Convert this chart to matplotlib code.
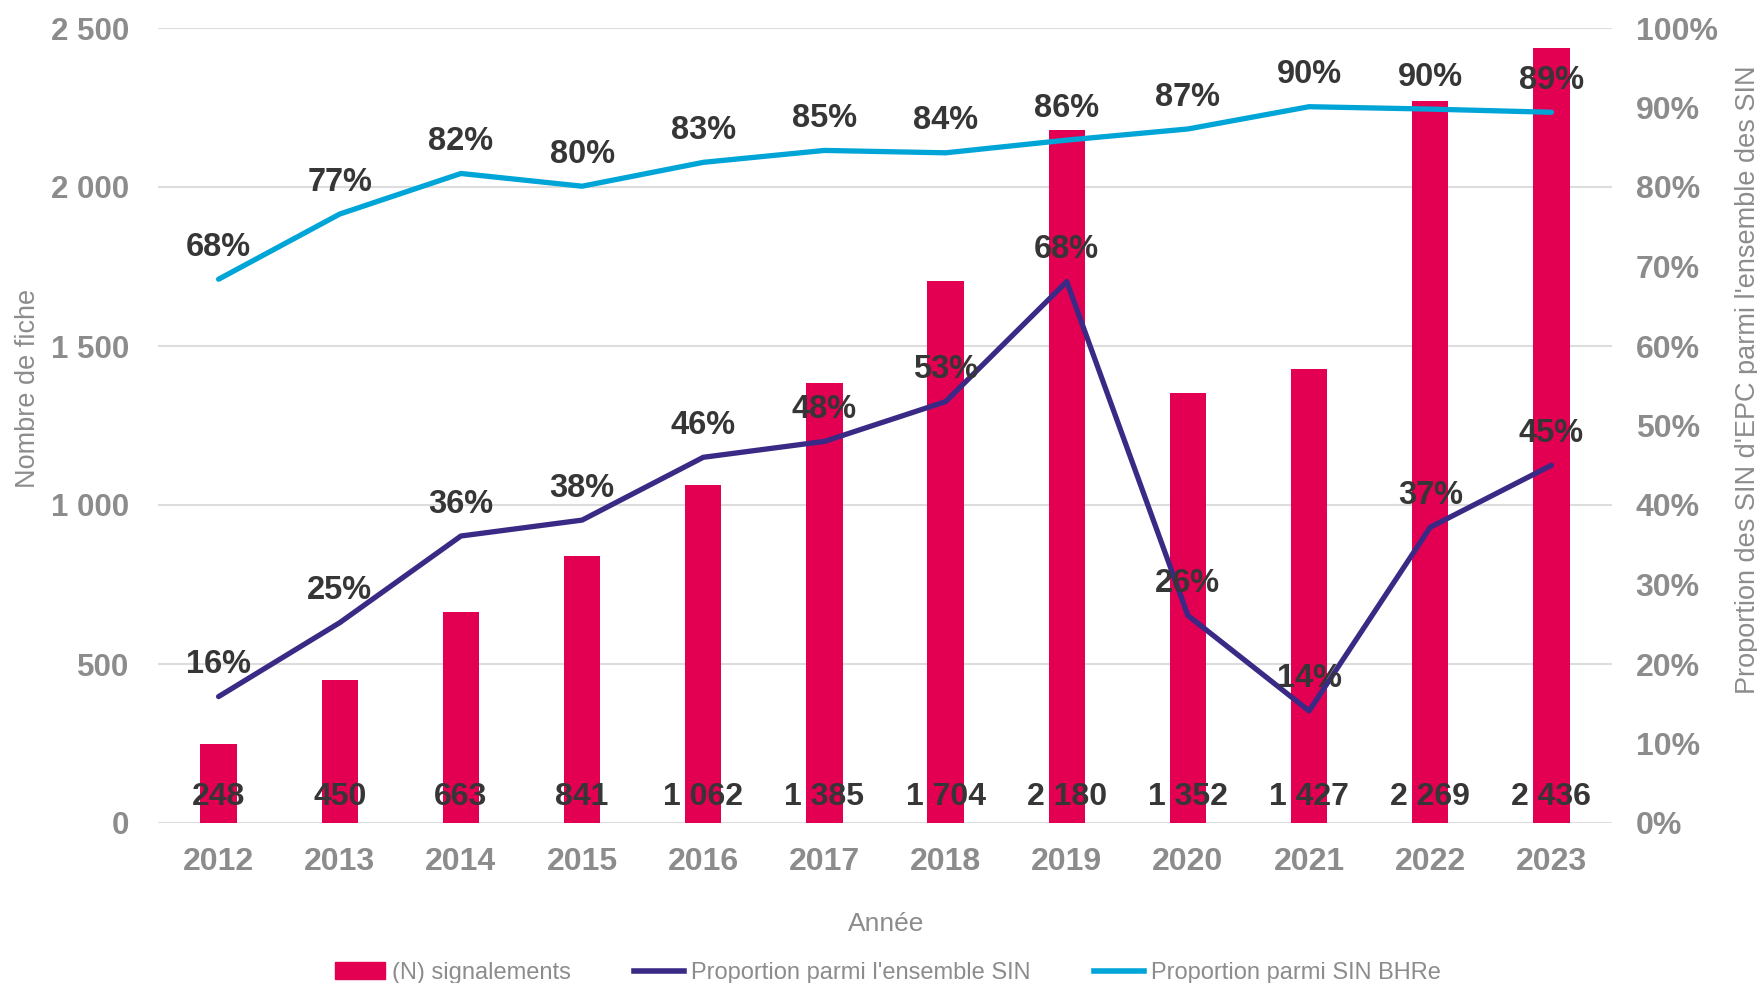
import matplotlib
matplotlib.use("Agg")
import matplotlib.pyplot as plt
from matplotlib.ticker import FuncFormatter, MultipleLocator
from matplotlib.patches import Patch
from matplotlib.lines import Line2D

plt.rcParams['font.family'] = ['Liberation Sans', 'DejaVu Sans']

years = ["2012", "2013", "2014", "2015", "2016", "2017", "2018", "2019", "2020", "2021", "2022", "2023"]
signalements = [248, 450, 663, 841, 1062, 1385, 1704, 2180, 1352, 1427, 2269, 2436]
prop_ensemble = [15.9, 25.2, 36.1, 38.1, 46.0, 48.0, 53.0, 68.1, 26.1, 14.1, 37.2, 45.0]
prop_bhre = [68.4, 76.6, 81.7, 80.1, 83.1, 84.6, 84.3, 85.9, 87.3, 90.1, 89.8, 89.4]

BAR = "#E30052"
PURPLE = "#3A2A86"
BLUE = "#00A5D8"
GRAY = "#8C8C8C"
DARK = "#363636"
GRID = "#DDDDDD"

W, H = 1758, 983
fig = plt.figure(figsize=(W / 100, H / 100), dpi=100)
L, R, T, B = 158, 1612, 28, 823
ax = fig.add_axes([L / W, 1 - B / H, (R - L) / W, (B - T) / H])
ax2 = ax.twinx()

x = list(range(len(years)))
ax.bar(x, signalements, width=0.3, color=BAR, zorder=2)
ax.set_ylim(0, 2500)
ax.set_xlim(-0.5, len(years) - 0.5)
ax.yaxis.set_major_locator(MultipleLocator(500))
ax.yaxis.set_major_formatter(FuncFormatter(lambda v, p: f"{int(v):,}".replace(",", " ")))
ax.grid(axis='y', color=GRID, linewidth=1.5, zorder=0)
ax.set_axisbelow(True)
ax.set_xticks(x)
ax.set_xticklabels(years)
for s in ax.spines.values():
    s.set_visible(False)
for s in ax2.spines.values():
    s.set_visible(False)
ax.tick_params(axis='both', length=0, labelsize=23, labelcolor=GRAY)
ax.tick_params(axis='y', pad=21, labelsize=22.5)
ax.tick_params(axis='x', pad=17)
for lab in ax.get_xticklabels() + ax.get_yticklabels():
    lab.set_fontweight('bold')

for i, v in enumerate(signalements):
    ax.annotate(f"{v:,}".replace(",", " "), xy=(i, 0), xytext=(0, 19), textcoords='offset points',
                ha='center', va='center', fontsize=23, fontweight='bold', color=DARK, zorder=6)

ax2.plot(x, prop_ensemble, color=PURPLE, linewidth=3.8, solid_capstyle='round', zorder=3)
ax2.plot(x, prop_bhre, color=BLUE, linewidth=3.8, solid_capstyle='round', zorder=3)
ax2.set_ylim(0, 100)
ax2.yaxis.set_major_locator(MultipleLocator(10))
ax2.yaxis.set_major_formatter(FuncFormatter(lambda v, p: f"{int(round(v))}%"))
ax2.tick_params(axis='y', length=0, labelsize=23, labelcolor=GRAY, pad=17)
for lab in ax2.get_yticklabels():
    lab.set_fontweight('bold')

for series in (prop_ensemble, prop_bhre):
    for i, v in enumerate(series):
        ax2.annotate(f"{int(round(v))}%", xy=(i, v), xytext=(0, 23), textcoords='offset points',
                     ha='center', va='center', fontsize=23.5, fontweight='bold', color=DARK, zorder=6)

ax.set_xlabel("Année", fontsize=19, color=GRAY, va='center')
ax.xaxis.set_label_coords((886 - L) / (R - L), (B - 924) / (B - T))
ax.set_ylabel("Nombre de fiche", fontsize=19.5, color=GRAY, va='center')
ax.yaxis.set_label_coords((28 - L) / (R - L), (B - 388) / (B - T))
ax2.set_ylabel("Proportion des SIN d'EPC parmi l'ensemble des SIN", fontsize=19.5, color=GRAY,
               rotation=90, va='center')
ax2.yaxis.set_label_coords((1748 - L) / (R - L), (B - 380) / (B - T))

handles = [Patch(facecolor=BAR, edgecolor=BAR),
           Line2D([0], [0], color=PURPLE, linewidth=4),
           Line2D([0], [0], color=BLUE, linewidth=4)]
labels = ["(N) signalements", "Proportion parmi l'ensemble SIN", "Proportion parmi SIN BHRe"]
leg = fig.legend(handles, labels, loc='center', bbox_to_anchor=(888 / W, 1 - 973 / H), ncol=3,
                 frameon=False, fontsize=17, handlelength=2.1, handletextpad=0.3, columnspacing=2.7,
                 labelcolor=GRAY)

fig.savefig("out.png", dpi=100)
